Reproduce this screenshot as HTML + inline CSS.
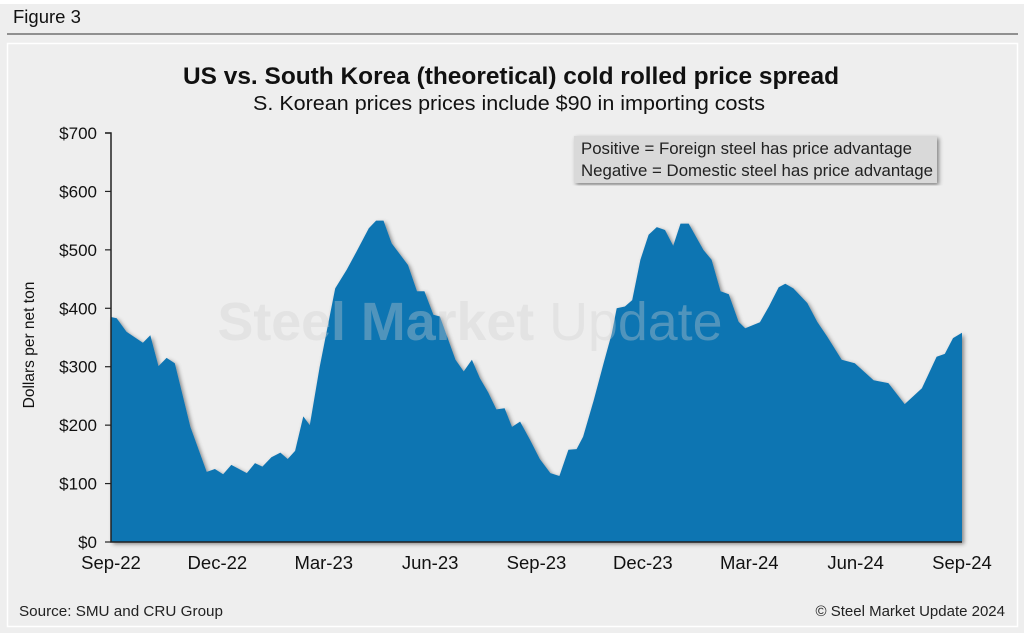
<!DOCTYPE html>
<html><head><meta charset="utf-8"><style>
body{margin:0;width:1024px;height:633px;background:#fff;overflow:hidden;font-family:"Liberation Sans",sans-serif;}
</style></head><body>
<svg width="1024" height="633" xmlns="http://www.w3.org/2000/svg">
<defs>
<filter id="sh" x="-5%" y="-5%" width="110%" height="110%"><feDropShadow dx="2" dy="2" stdDeviation="2" flood-color="#000" flood-opacity="0.45"/></filter>
</defs>
<rect x="0" y="4" width="1024" height="629" fill="#eeeeee"/>
<text x="13" y="23" font-size="18.5" fill="#111">Figure 3</text>
<line x1="7" y1="34" x2="1018" y2="34" stroke="#333" stroke-width="1"/>
<rect x="7.5" y="43.5" width="1010" height="583" fill="#eeeeee" stroke="#fff" stroke-width="1.5"/>
<text x="511" y="84" font-size="24" font-weight="bold" text-anchor="middle" fill="#111" textLength="656" lengthAdjust="spacingAndGlyphs">US vs. South Korea (theoretical) cold rolled price spread</text>
<text x="509" y="110" font-size="20" text-anchor="middle" fill="#111" textLength="512" lengthAdjust="spacingAndGlyphs">S. Korean prices prices include $90 in importing costs</text>
<g id="plot"></g>
<text x="470" y="340" font-size="54" font-weight="bold" text-anchor="middle" fill="rgba(205,205,205,0.35)" textLength="505" lengthAdjust="spacingAndGlyphs">Steel Market <tspan font-weight="normal">Update</tspan></text>
<g filter="url(#sh)"><rect x="574" y="136" width="363" height="47" fill="#d9d9d9"/></g>
<text x="581" y="154" font-size="16.5" fill="#222" textLength="331" lengthAdjust="spacingAndGlyphs">Positive = Foreign steel has price advantage</text>
<text x="581" y="176" font-size="16.5" fill="#222" textLength="352" lengthAdjust="spacingAndGlyphs">Negative = Domestic steel has price advantage</text>
<text transform="translate(34,345) rotate(-90)" font-size="15.5" text-anchor="middle" fill="#111">Dollars per net ton</text>
<text x="19" y="616" font-size="15" fill="#222" textLength="204" lengthAdjust="spacingAndGlyphs">Source: SMU and CRU Group</text>
<text x="1005" y="616" font-size="15" text-anchor="end" fill="#222">© Steel Market Update 2024</text>
</svg>
<script>
const weeks=[0,0.7,1.9,3.9,4.8,5.8,6.8,7.8,9.7,11.7,12.7,13.7,14.7,16.6,17.6,18.5,19.6,20.7,21.6,22.5,23.5,24.3,25.5,27.4,28.8,30,31.5,32.4,33.3,34.3,36.3,37.4,38.3,39.4,40.2,42.1,43.1,44.1,45.1,46.1,47.1,48.1,49,50,51.2,52.4,53.7,54.8,55.9,56.9,57.7,59,60.2,61.2,61.8,62.8,63.7,64.7,65.7,66.7,67.7,68.7,69.6,70.6,72.4,73.4,74.5,75.5,76.7,77.5,79.3,80.4,81.6,82.4,83.4,85.1,86.3,87.5,89.3,90.9,93.2,95,97,99.1,100.9,101.9,102.9,104];
const spread=[385,383,360,341,354,301,315,306,197,120,125,116,132,118,135,129,145,153,142,156,215,200,300,434,466,497,537,550,550,511,474,429,429,389,386,312,292,312,280,256,227,229,197,206,175,142,118,113,158,159,180,243,306,357,400,403,414,483,526,539,534,507,545,545,500,483,429,424,377,366,376,403,436,442,434,409,377,352,312,306,277,272,236,263,317,322,349,358];
const yTicks=[0,100,200,300,400,500,600,700];
const xLabels=["Sep-22","Dec-22","Mar-23","Jun-23","Sep-23","Dec-23","Mar-24","Jun-24","Sep-24"];
const NS="http://www.w3.org/2000/svg";
const x0=111,x1=962,y0=542,y1=133;
const xs=w=>x0+(w/104)*(x1-x0);
const ys=v=>y0-(v/700)*(y0-y1);
const g=document.getElementById('plot');
function mk(t,a){const e=document.createElementNS(NS,t);for(const k in a)e.setAttribute(k,a[k]);g.appendChild(e);return e;}
let d="M"+xs(weeks[0])+","+y0;
weeks.forEach((w,i)=>{d+=" L"+xs(w).toFixed(1)+","+ys(spread[i]).toFixed(1);});
d+=" L"+xs(weeks[weeks.length-1])+","+y0+" Z";
const area=mk('path',{d:d,fill:"#1174b2",filter:"url(#sh)"});


const ax=mk('path',{d:`M${x0-6},${y1} H${x0} V${y0} H${x1}`,fill:"none",stroke:"#222","stroke-width":1.5});


yTicks.forEach(v=>{
 const t=mk('line',{x1:x0-6,x2:x0,y1:ys(v),y2:ys(v),stroke:"#222","stroke-width":1.2});
 
 
 const l=mk('text',{x:97,y:ys(v)+6,"font-size":17,"text-anchor":"end",fill:"#111"});
 l.textContent="$"+v;
 
 
});
xLabels.forEach((s,i)=>{
 const l=mk('text',{x:x0+i*(x1-x0)/8,y:569,"font-size":18.5,"text-anchor":"middle",fill:"#111"});
 l.textContent=s;
 
 
});
</script>
</body></html>
